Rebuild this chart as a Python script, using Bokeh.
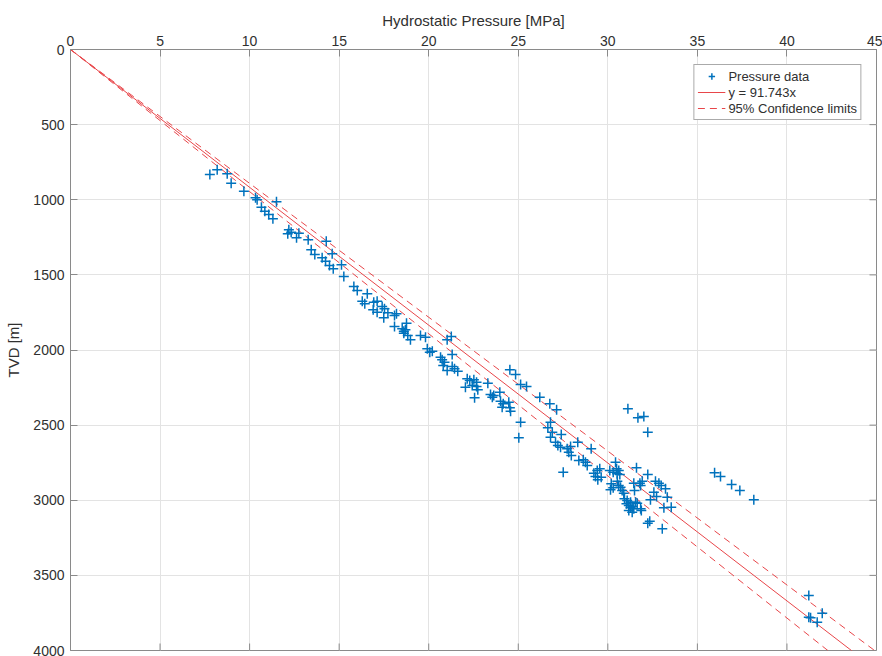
from bokeh.plotting import figure
from bokeh.models import Range1d, FixedTicker, Legend, LegendItem, ColumnDataSource
from bokeh.embed import file_html
from bokeh.resources import INLINE

# ---------------- data ----------------
pressure_mpa = [
    7.78, 8.19, 8.75, 8.97, 9.68, 10.33, 10.42, 11.50, 10.66, 10.85, 11.07, 11.30,
    12.19, 12.32, 12.13, 12.75, 12.62, 13.27, 14.28, 13.44, 13.64, 14.05, 14.61, 14.24,
    14.46, 14.67, 15.13, 15.26, 15.82, 16.01, 16.57, 16.29, 16.43, 16.93, 17.12, 16.90,
    17.12, 17.40, 17.53, 17.72, 17.49, 18.09, 18.20, 18.09, 18.52, 18.61, 18.70, 18.76,
    18.83, 18.98, 18.61, 19.54, 19.82, 21.03, 21.26, 19.92, 20.06, 20.20, 20.66, 20.75,
    20.88, 20.81, 21.31, 21.03, 21.31, 21.44, 21.62, 22.15, 22.29, 22.52, 22.67, 22.43,
    22.67, 22.05, 22.74, 22.56, 23.30, 23.45, 23.63, 23.55, 23.97, 24.01, 24.16, 24.10,
    24.47, 24.53, 24.57, 24.53, 24.85, 25.13, 25.46, 25.13, 25.03, 26.20, 26.76, 27.14,
    26.80, 26.65, 26.90, 26.80, 27.40, 27.08, 27.21, 27.36, 27.92, 27.73, 28.32, 27.82,
    27.96, 27.51, 29.07, 28.38, 28.63, 28.75, 28.85, 29.22, 29.41, 29.55, 29.31, 29.44,
    29.63, 30.11, 30.30, 30.49, 30.43, 30.61, 30.52, 30.67, 30.19, 30.15, 30.30, 30.61,
    30.71, 30.53, 30.80, 30.89, 30.93, 31.08, 31.04, 31.17, 31.27, 31.36, 31.27, 31.45,
    31.17, 31.36, 31.55, 31.64, 31.83, 31.87, 31.60, 31.45, 31.49, 31.79, 31.92, 31.83,
    32.23, 32.23, 32.66, 32.85, 32.98, 33.22, 32.38, 32.72, 32.57, 33.13, 33.32, 32.23,
    32.34, 33.04, 31.12, 31.68, 32.01, 33.54, 35.96, 36.29, 36.91, 37.37, 38.15, 41.22,
    41.22, 41.32, 41.69, 41.97,
]
tvd_m = [
    832, 801, 827, 890, 943, 987, 1000, 1014, 1050, 1076, 1098, 1127,
    1200, 1216, 1227, 1223, 1253, 1267, 1276, 1333, 1364, 1386, 1360, 1409,
    1438, 1460, 1433, 1511, 1577, 1604, 1626, 1675, 1693, 1682, 1675, 1732,
    1748, 1710, 1726, 1752, 1786, 1770, 1759, 1844, 1859, 1875, 1866, 1822,
    1903, 1932, 1888, 1903, 1915, 1932, 1910, 1992, 2015, 2008, 2048, 2065,
    2081, 2103, 2030, 2136, 2110, 2125, 2141, 2192, 2203, 2198, 2214, 2236,
    2243, 2248, 2265, 2318, 2221, 2296, 2303, 2314, 2281, 2341, 2358, 2381,
    2347, 2385, 2407, 2132, 2163, 2230, 2243, 2481, 2584, 2314, 2358, 2398,
    2481, 2518, 2547, 2580, 2562, 2614, 2636, 2647, 2642, 2658, 2614, 2680,
    2702, 2813, 2658, 2735, 2731, 2747, 2769, 2820, 2802, 2791, 2842, 2864,
    2847, 2802, 2813, 2791, 2747, 2802, 2824, 2829, 2891, 2930, 2917, 2902,
    2913, 2873, 2935, 2953, 2990, 3002, 3024, 3035, 3013, 3042, 3050, 3057,
    3068, 3080, 3013, 3020, 3057, 3068, 2784, 2887, 2935, 2887, 2873, 2902,
    2829, 2547, 2873, 2887, 2902, 2924, 2997, 2975, 2946, 3050, 2980, 3153,
    3139, 3190, 2391, 2451, 2443, 3046, 2817, 2842, 2895, 2935, 2997, 3634,
    3778, 3782, 3812, 3752,
]

fit_slope = 91.743          # TVD [m] per MPa
conf_slopes = [89.1, 94.6]  # 95% confidence limits
x_ticks = [0, 5, 10, 15, 20, 25, 30, 35, 40, 45]
y_ticks = [0, 500, 1000, 1500, 2000, 2500, 3000, 3500, 4000]
x_min, x_max = 0, 45
y_min, y_max = 0, 4000

FONT = "Liberation Sans"
AXIS_COLOR = "#8a8a8a"
TEXT_COLOR = "#303030"
BLUE = "#0072BD"
RED = "#e8464a"

W, H = 882, 656
B_LEFT, B_RIGHT, B_TOP, B_BOTTOM = 70, 6, 49, 6

p = figure(width=W, height=H,
           x_range=Range1d(x_min, x_max), y_range=Range1d(y_max, y_min),
           x_axis_location="above",
           output_backend="svg", toolbar_location=None,
           min_border_left=B_LEFT, min_border_right=B_RIGHT,
           min_border_top=B_TOP, min_border_bottom=B_BOTTOM)
p.background_fill_color = "white"
p.border_fill_color = "white"
p.outline_line_color = AXIS_COLOR
p.outline_line_width = 1

TICK_LEN = 7

top = p.xaxis[0]
top.axis_label = "Hydrostatic Pressure [MPa]"
top.ticker = FixedTicker(ticks=x_ticks)
left = p.yaxis[0]
left.axis_label = "TVD [m]"
left.ticker = FixedTicker(ticks=y_ticks)
for ax in (top, left):
    ax.axis_line_color = AXIS_COLOR
    ax.major_tick_line_color = AXIS_COLOR
    ax.major_tick_in = TICK_LEN
    ax.major_tick_out = 0
    ax.minor_tick_line_color = None
    ax.major_label_text_font = FONT
    ax.major_label_text_font_size = "14px"
    ax.major_label_text_color = TEXT_COLOR
    ax.axis_label_text_font = FONT
    ax.axis_label_text_font_size = "15px"
    ax.axis_label_text_font_style = "normal"
    ax.axis_label_text_color = TEXT_COLOR
top.major_label_standoff = 4
top.axis_label_standoff = 4
left.major_label_standoff = 6
left.axis_label_standoff = 8

# inward ticks on the opposite (box) sides, built from the tick lists
frame_w = W - B_LEFT - B_RIGHT
frame_h = H - B_TOP - B_BOTTOM
dx_tick = TICK_LEN * (x_max - x_min) / frame_w
dy_tick = TICK_LEN * (y_max - y_min) / frame_h
p.segment(x0=x_ticks, y0=[y_max] * len(x_ticks), x1=x_ticks,
          y1=[y_max - dy_tick] * len(x_ticks), line_color=AXIS_COLOR, line_width=1)
p.segment(x0=[x_max] * len(y_ticks), y0=y_ticks, x1=[x_max - dx_tick] * len(y_ticks),
          y1=y_ticks, line_color=AXIS_COLOR, line_width=1)

p.xgrid.ticker = FixedTicker(ticks=x_ticks)
p.ygrid.ticker = FixedTicker(ticks=y_ticks)
for g in (p.xgrid, p.ygrid):
    g.grid_line_color = "#e3e3e3"
    g.grid_line_width = 1

# fit and confidence lines (TVD = slope * pressure)
line_x = [x_min, x_max]
fit_r = p.line(line_x, [fit_slope * v for v in line_x], line_color=RED, line_width=1)
conf_rs = []
for s in conf_slopes:
    conf_rs.append(p.line(line_x, [s * v for v in line_x], line_color=RED,
                          line_width=1, line_dash="7 5"))

src = ColumnDataSource(dict(x=pressure_mpa, y=tvd_m))
pts = p.scatter("x", "y", source=src, marker="cross", size=10,
                line_color=BLUE, line_width=1.5)

legend = Legend(items=[
    LegendItem(label="Pressure data", renderers=[pts]),
    LegendItem(label="y = 91.743x", renderers=[fit_r]),
    LegendItem(label="95% Confidence limits", renderers=[conf_rs[0]]),
], location="top_right")
legend.label_text_font = FONT
legend.label_text_font_size = "13px"
legend.label_text_color = TEXT_COLOR
legend.border_line_color = "#555555"
legend.border_line_width = 1
legend.background_fill_alpha = 1
legend.padding = 3
legend.spacing = 0
legend.margin = 15
legend.label_height = 16
legend.glyph_height = 16
legend.glyph_width = 28
legend.label_standoff = 3
p.add_layout(legend, "center")

open("out.html", "w").write(file_html(p, INLINE))
